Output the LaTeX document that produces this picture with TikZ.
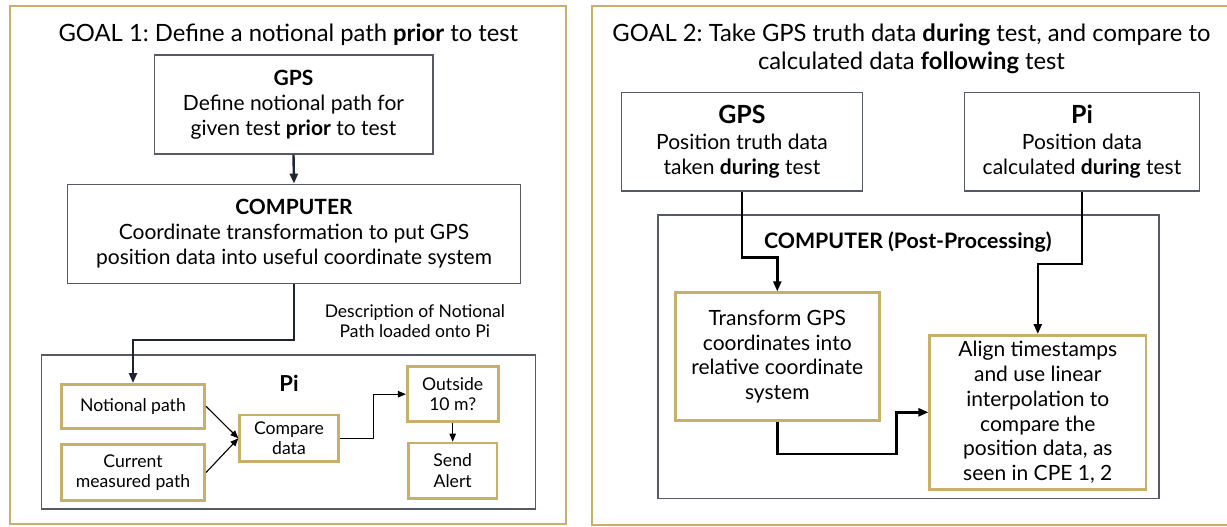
\documentclass[tikz,border=0pt]{standalone}
\usepackage{fontspec}
\setmainfont{Lato}
\frenchspacing
\usetikzlibrary{arrows.meta,calc}

\definecolor{panelgold}{HTML}{C9B06A}
\definecolor{boxgray}{HTML}{555A66}
\definecolor{linkdark}{HTML}{1E2430}

\tikzset{
  panel/.style={draw=panelgold, line width=2.6pt},
  graybox/.style={draw=boxgray, line width=1.4pt, fill=white, inner sep=0pt, align=center},
  goldbox/.style={draw=panelgold, line width=2.6pt, fill=white, inner sep=0pt, align=center},
  bigarrow/.style={line width=2.4pt, -{Triangle[length=10pt,width=8pt]}},
  smallarrow/.style={line width=1.1pt, -{Triangle[length=8pt,width=6.5pt]}},
  bodytext/.style={font=\fontsize{21}{25}\selectfont},
  smalltext/.style={font=\fontsize{17.6}{20.5}\selectfont},
  titletext/.style={font=\fontsize{23.8}{28}\selectfont},
  steptext/.style={font=\fontsize{21}{24.9}\selectfont},
}

\begin{document}
\begin{tikzpicture}[x=1pt, y=-1pt]
\useasboundingbox (0,0) rectangle (1227,527);

% ---------- left panel: notional path ----------
\draw[panel] (10,6) rectangle (566,524);
\node[anchor=base, titletext] (title1) at (288.4,41.7)
  {GOAL 1: Define a notional path \textbf{prior} to test};

\node[graybox, bodytext, minimum width=278.6pt, minimum height=99pt] (gps1) at (293.5,104.5)
  {\textbf{GPS}\\Define notional path for\\given test \textbf{prior} to test};
\node[graybox, bodytext, minimum width=453pt, minimum height=99pt] (comp1) at (294,233.8)
  {\textbf{COMPUTER}\\Coordinate transformation to put GPS\\position data into useful coordinate system};

\node[align=center, font=\fontsize{17.5}{20.7}\selectfont] (desc) at (414.8,321)
  {Description of Notional\\Path loaded onto Pi};

\node[graybox, minimum width=494.5pt, minimum height=154pt] (pibox) at (288.5,432) {};
\node[anchor=base, font=\fontsize{22}{24}\selectfont\bfseries] (pilabel) at (289,391) {Pi};

\node[goldbox, smalltext, minimum width=143.5pt, minimum height=44pt] (notional) at (133,406.3)
  {Notional path};
\node[goldbox, smalltext, minimum width=143.5pt, minimum height=56.4pt] (current) at (133,472.5)
  {Current\\measured path};
\node[goldbox, smalltext, minimum width=98.7pt, minimum height=46.7pt] (compare) at (289,438.3)
  {Compare\\data};
\node[goldbox, smalltext, minimum width=91pt, minimum height=55pt] (outside) at (452.7,394.2)
  {Outside\\10 m?};
\node[goldbox, smalltext, minimum width=88.7pt, minimum height=55.7pt] (alert) at (452.7,470.8)
  {Send\\Alert};

\draw[bigarrow, linkdark] (gps1.south) -- (comp1.north);
\draw[bigarrow, linkdark] (comp1.south) -- ++(0,56) -| (notional.north);
\draw[smallarrow] (notional.east) -- (compare.west);
\draw[smallarrow] (current.east) -- (compare.west);
\draw[smallarrow] (compare.east) -- ++(34,0) |- (outside.west);
\draw[smallarrow] (outside.south) -- (alert.north);

% ---------- right panel: post-test comparison ----------
\draw[panel] (592,6) rectangle (1260,525);
\node[anchor=base, titletext] (title2a) at (911.5,41.7)
  {GOAL 2: Take GPS truth data \textbf{during} test, and compare to};
\node[anchor=base, titletext] (title2b) at (911.5,70)
  {calculated data \textbf{following} test};

\node[graybox, font=\fontsize{21}{25.5}\selectfont, minimum width=240.5pt, minimum height=98.3pt] (gps2) at (742,141.8)
  {{\fontsize{25}{25.5}\selectfont\textbf{GPS}}\\Position truth data\\taken \textbf{during} test};
\node[graybox, font=\fontsize{21}{25.5}\selectfont, minimum width=235pt, minimum height=98.3pt] (pi2) at (1082,141.8)
  {{\fontsize{25}{25.5}\selectfont\textbf{Pi}}\\Position data\\calculated \textbf{during} test};

\node[graybox, minimum width=501pt, minimum height=283.3pt] (comp2) at (908.4,356.7) {};
\node[anchor=base, font=\fontsize{21.3}{24}\selectfont\bfseries] (comp2label) at (907.9,248.3)
  {COMPUTER (Post-Processing)};

\node[goldbox, steptext, minimum width=204pt, minimum height=128pt] (transform) at (777.3,356.7)
  {Transform GPS\\coordinates into\\relative coordinate\\system};
\node[goldbox, steptext, minimum width=216.2pt, minimum height=154pt] (align) at (1037.8,412.3)
  {Align timestamps\\and use linear\\interpolation to\\compare the\\position data, as\\seen in CPE 1, 2};

\draw[bigarrow] (gps2.south) -- ++(0,65.7) -| (transform.north);
\draw[bigarrow] (pi2.south) -- ++(0,72.3) -| (align.north);
\draw[bigarrow] (transform.south) -- ++(0,32) -| ([xshift=-32pt]align.west) -- (align.west);

\end{tikzpicture}
\end{document}
